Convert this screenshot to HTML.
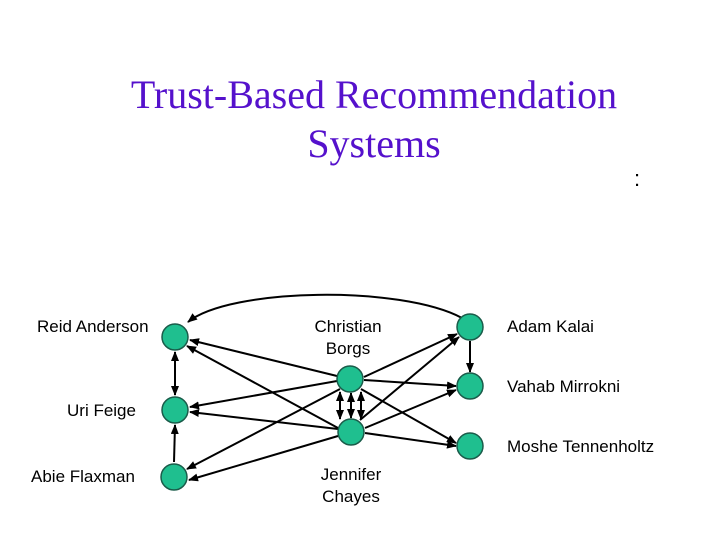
<!DOCTYPE html><html><head><style>
body{margin:0;width:720px;height:540px;background:#fff;overflow:hidden}
</style></head><body>
<svg width="720" height="540" xmlns="http://www.w3.org/2000/svg">
<defs><marker id="a" markerWidth="10" markerHeight="8" refX="9" refY="4" orient="auto-start-reverse" markerUnits="userSpaceOnUse"><path d="M0,0 L10,4 L0,8 z" fill="#000"/></marker></defs>
<g font-family="Liberation Serif,serif" font-size="40" fill="#5511cc" text-anchor="middle">
<text x="374" y="108">Trust-Based Recommendation</text>
<text x="374" y="157">Systems</text></g>
<text x="637" y="186" font-family="Liberation Sans,sans-serif" font-size="22" text-anchor="middle">:</text>
<g stroke="#000" stroke-width="2" fill="none" marker-end="url(#a)">
<path d="M462,318 C400,285 230,288 188,322"/>
<line x1="175" y1="352" x2="175" y2="395" marker-start="url(#a)"/>
<line x1="174" y1="462" x2="175" y2="425"/>
<line x1="337" y1="376" x2="190" y2="340"/>
<line x1="338" y1="428" x2="187" y2="346"/>
<line x1="337" y1="381" x2="190" y2="407"/>
<line x1="338" y1="429" x2="190" y2="412"/>
<line x1="340" y1="389" x2="187" y2="469"/>
<line x1="338" y1="436" x2="189" y2="480"/>
<line x1="364" y1="377" x2="457" y2="334"/>
<line x1="360" y1="420" x2="459" y2="337"/>
<line x1="364" y1="380" x2="456" y2="386"/>
<line x1="365" y1="428" x2="456" y2="390"/>
<line x1="361" y1="389" x2="456" y2="443"/>
<line x1="365" y1="433" x2="456" y2="446"/>
<line x1="470" y1="341" x2="470" y2="372"/>
<line x1="340" y1="392" x2="340" y2="419" marker-start="url(#a)"/>
<line x1="351" y1="393" x2="351" y2="418" marker-start="url(#a)"/>
<line x1="361" y1="392" x2="361" y2="419" marker-start="url(#a)"/>
</g>
<g fill="#1fbf8f" stroke="#1a5c4a" stroke-width="1.5">
<circle cx="175" cy="337" r="13"/><circle cx="175" cy="410" r="13"/><circle cx="174" cy="477" r="13"/>
<circle cx="350" cy="379" r="13"/><circle cx="351" cy="432" r="13"/>
<circle cx="470" cy="327" r="13"/><circle cx="470" cy="386" r="13"/><circle cx="470" cy="446" r="13"/>
</g>
<g font-family="Liberation Sans,sans-serif" font-size="17" fill="#000">
<text x="37" y="332">Reid Anderson</text>
<text x="348" y="332" text-anchor="middle">Christian</text>
<text x="348" y="354" text-anchor="middle">Borgs</text>
<text x="507" y="332">Adam Kalai</text>
<text x="507" y="392">Vahab Mirrokni</text>
<text x="67" y="416">Uri Feige</text>
<text x="507" y="452">Moshe Tennenholtz</text>
<text x="31" y="482">Abie Flaxman</text>
<text x="351" y="480" text-anchor="middle">Jennifer</text>
<text x="351" y="502" text-anchor="middle">Chayes</text>
</g>
</svg>
</body></html>
